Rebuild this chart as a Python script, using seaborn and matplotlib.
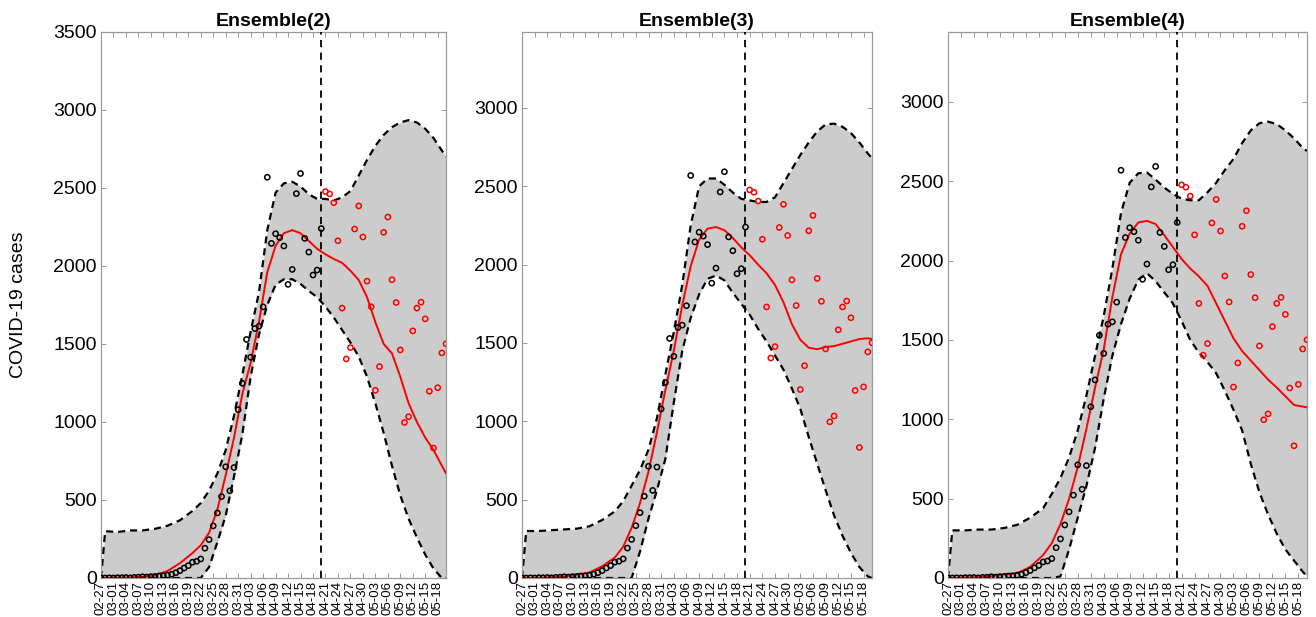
import numpy as np
import pandas as pd
import matplotlib
matplotlib.use("Agg")
import matplotlib.pyplot as plt
import seaborn as sns

# ---------------- data ----------------
YEAR = "2020"
start_date = "02-27"
end_date = "05-20"
cutoff_date = "04-20"          # last day used for fitting (vertical dashed line)

# observed daily cases (black = fitting window, red = test window)
obs_fit = [0, 0, 1, 0, 2, 2, 3, 1, 4, 5, 8, 6, 9, 10, 13, 14, 18, 24, 34, 47,
           64, 79, 101, 107, 122, 191, 246, 334, 417, 522, 713, 559, 708, 1079,
           1248, 1529, 1415, 1599, 1614, 1738, 2569, 2145, 2207, 2182, 2128,
           1882, 1978, 2464, 2593, 2177, 2089, 1942, 1974, 2240]
obs_test = [2477, 2462, 2406, 2162, 1730, 1404, 1477, 2237, 2385, 2186, 1903,
            1739, 1203, 1355, 2216, 2314, 1912, 1766, 1462, 997, 1034, 1584,
            1730, 1768, 1661, 1197, 833, 1220, 1443, 1501]

# dates at which the model curves were read
model_dates = ["02-27", "02-28", "03-02", "03-05", "03-08", "03-11", "03-14",
               "03-17", "03-20", "03-22", "03-24", "03-26", "03-28", "03-30",
               "04-01", "04-03", "04-05", "04-07", "04-09", "04-11", "04-13",
               "04-15", "04-17", "04-19", "04-21", "04-23", "04-25", "04-27",
               "04-29", "05-01", "05-03", "05-05", "05-07", "05-09", "05-11",
               "05-13", "05-15", "05-17", "05-19", "05-20"]

titles = ["Ensemble(2)", "Ensemble(3)", "Ensemble(4)"]

upper_2 = [0, 300, 295, 305, 305, 315, 335, 370, 430, 480, 560, 670, 820, 1040,
           1300, 1580, 1830, 2230, 2470, 2530, 2540, 2510, 2460, 2430, 2430,
           2420, 2440, 2480, 2580, 2680, 2770, 2840, 2890, 2920, 2935, 2920,
           2880, 2820, 2740, 2700]
lower_2 = [0, 0, 0, 0, 0, 0, 0, 0, 0, 0, 70, 230, 400, 650, 920, 1290, 1560,
           1750, 1880, 1915, 1915, 1885, 1840, 1800, 1740, 1670, 1590, 1510,
           1420, 1290, 1120, 930, 720, 530, 380, 260, 150, 60, 0, 0]
fit_2 = [0, 0, 2, 4, 8, 18, 45, 95, 160, 210, 290, 440, 660, 900, 1180, 1380,
         1640, 1960, 2130, 2210, 2230, 2210, 2160, 2110, 2075, 2045, 2020, 1970,
         1910, 1800, 1640, 1500, 1440, 1290, 1120, 1000, 900, 820, 720, 670]

upper_3 = [0, 300, 300, 305, 310, 315, 330, 370, 425, 490, 590, 690, 820, 1020,
           1300, 1570, 1870, 2250, 2500, 2550, 2550, 2510, 2460, 2420, 2410,
           2400, 2400, 2430, 2520, 2610, 2700, 2780, 2850, 2895, 2900, 2880,
           2840, 2780, 2710, 2680]
lower_3 = [0, 0, 0, 0, 0, 0, 0, 0, 0, 0, 0, 170, 380, 560, 760, 1120, 1450, 1660,
           1810, 1910, 1930, 1900, 1820, 1750, 1680, 1590, 1510, 1420, 1330,
           1210, 1080, 900, 730, 560, 400, 270, 160, 70, 10, 0]
fit_3 = [0, 0, 2, 5, 10, 20, 35, 75, 130, 200, 320, 480, 680, 930, 1200, 1450,
         1740, 1990, 2160, 2230, 2240, 2220, 2170, 2110, 2060, 2000, 1945, 1870,
         1760, 1620, 1520, 1470, 1460, 1475, 1480, 1495, 1510, 1525, 1530, 1525]

upper_4 = [0, 300, 300, 305, 305, 315, 335, 380, 440, 530, 630, 760, 930, 1150,
           1400, 1650, 1950, 2300, 2490, 2550, 2555, 2510, 2460, 2420, 2390,
           2380, 2380, 2430, 2490, 2570, 2640, 2740, 2820, 2865, 2875, 2860,
           2820, 2770, 2710, 2690]
lower_4 = [0, 0, 0, 0, 0, 0, 0, 0, 0, 0, 10, 180, 380, 580, 820, 1130, 1400,
           1600, 1760, 1880, 1920, 1870, 1800, 1730, 1620, 1500, 1420, 1360,
           1290, 1180, 1060, 930, 720, 540, 400, 280, 180, 110, 40, 10]
fit_4 = [0, 0, 3, 6, 12, 22, 30, 70, 145, 220, 340, 500, 700, 940, 1200, 1440,
         1770, 2040, 2170, 2240, 2250, 2230, 2160, 2085, 2010, 1950, 1900, 1840,
         1730, 1620, 1510, 1430, 1370, 1310, 1250, 1200, 1145, 1090, 1080, 1075]

y_tops = [3500, 3485, 3440]
y_tick_max = [3500, 3000, 3000]

# ---------------- helpers ----------------
t0 = pd.Timestamp(f"{YEAR}-{start_date}")
def to_day(mmdd):
    return (pd.Timestamp(f"{YEAR}-{mmdd}") - t0).days

obs_dates = pd.date_range(f"{YEAR}-{start_date}", f"{YEAR}-{end_date}")
obs_days = np.array((obs_dates - t0).days)
obs_df = pd.DataFrame({"day": obs_days, "cases": obs_fit + obs_test,
                       "set": ["fit"] * len(obs_fit) + ["test"] * len(obs_test)})
m_days = np.array([to_day(d) for d in model_dates])

tick_dates = pd.date_range(f"{YEAR}-{start_date}", f"{YEAR}-05-18", freq="3D")
tick_days = np.array((tick_dates - t0).days)
tick_labels = [d.strftime("%m-%d") for d in tick_dates]

# ---------------- style ----------------
sns.set_theme(style="white")
plt.rcParams["font.family"] = ["Liberation Sans", "DejaVu Sans"]
plt.rcParams["text.color"] = "black"
plt.rcParams["axes.labelcolor"] = "black"
plt.rcParams["xtick.labelcolor"] = "black"
plt.rcParams["ytick.labelcolor"] = "black"

fig = plt.figure(figsize=(13.16, 6.17), dpi=100)
W, H = 1316, 617
boxes = [(101, 446), (522, 872), (948, 1307)]
y_bot_px, y_top_px = 578, 32

curves = [(upper_2, lower_2, fit_2), (upper_3, lower_3, fit_3),
          (upper_4, lower_4, fit_4)]
band_ls = (0, (3.2, 2.2))
spine_col = "#9a9a9a"

for i, ((xl, xr), (up, lo, fit)) in enumerate(zip(boxes, curves)):
    ax = fig.add_axes([xl / W, (H - y_bot_px) / H, (xr - xl) / W,
                       (y_bot_px - y_top_px) / H])
    df = pd.DataFrame({"day": m_days, "upper": up, "lower": lo, "fit": fit})
    ax.fill_between(df["day"], df["lower"], df["upper"], color="#cccccc",
                    linewidth=0, zorder=1)
    sns.lineplot(data=df, x="day", y="upper", ax=ax, color="black", lw=1.6,
                 linestyle=band_ls, zorder=2)
    sns.lineplot(data=df, x="day", y="lower", ax=ax, color="black", lw=1.6,
                 linestyle=band_ls, zorder=2)
    sns.lineplot(data=df, x="day", y="fit", ax=ax, color="#ff0000", lw=1.4,
                 zorder=3)
    sns.scatterplot(data=obs_df, x="day", y="cases", hue="set",
                    palette={"fit": "black", "test": "#ff0000"}, ax=ax,
                    marker="o", s=14, facecolor="none", linewidth=1.1,
                    legend=False, zorder=4)
    coll = ax.collections[-1]
    cols = np.where(obs_df["set"].values == "fit", "black", "#ff0000")
    coll.set_edgecolors(list(cols))
    coll.set_facecolors("none")

    ax.axvline(to_day(cutoff_date), color="black", lw=1.3,
               linestyle=(0, (4, 3)), zorder=5)

    ax.set_xlim(0, obs_days[-1])
    ax.set_ylim(0, y_tops[i])
    ax.set_xticks(tick_days)
    ax.set_xticklabels(tick_labels, rotation=90, fontsize=9.5)
    ax.set_yticks(np.arange(0, y_tick_max[i] + 1, 500))
    ax.set_yticklabels([str(v) for v in range(0, y_tick_max[i] + 1, 500)],
                       fontsize=14)
    ax.tick_params(axis="both", direction="in", length=3.5, width=0.7,
                   color=spine_col, labelcolor="black", top=True, right=True,
                   bottom=True, left=True, pad=3)
    ax.tick_params(axis="x", pad=2)
    for sp in ax.spines.values():
        sp.set_color(spine_col)
        sp.set_linewidth(0.9)
        sp.set_visible(True)
    ax.set_xlabel("")
    if i == 0:
        ax.set_ylabel("COVID-19 cases", fontsize=14, color="black")
        ax.yaxis.set_label_coords((27 - xl) / (xr - xl), 0.5)
    else:
        ax.set_ylabel("")
    ax.set_title(titles[i], fontsize=14, fontweight="bold", pad=4,
                 color="black")

fig.savefig("out.png", dpi=100)
